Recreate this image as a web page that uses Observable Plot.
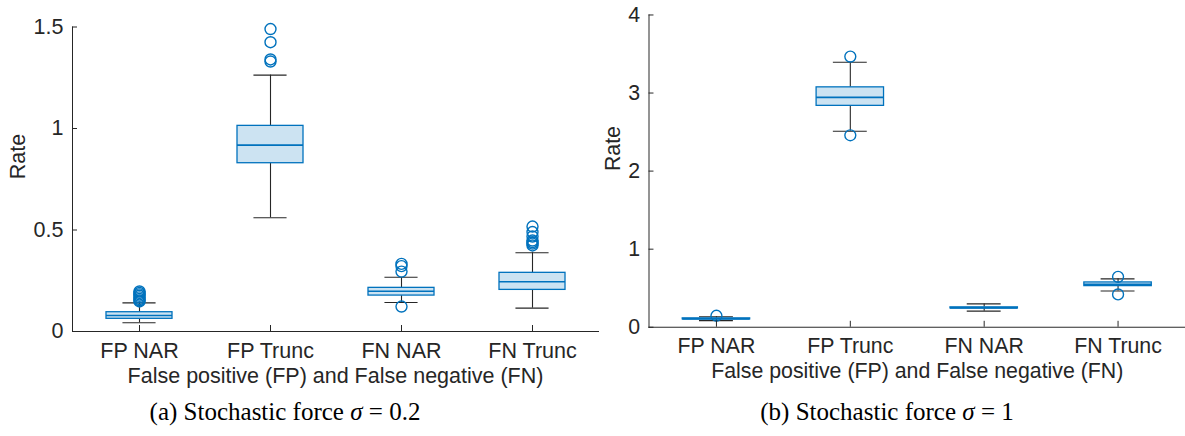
<!DOCTYPE html>
<html><head><meta charset="utf-8">
<script src="https://cdn.jsdelivr.net/npm/d3@7"></script>
<script src="https://cdn.jsdelivr.net/npm/@observablehq/plot@0.6"></script>
<style>
html,body{margin:0;padding:0;background:#fff;overflow:hidden;width:1185px;height:436px;}
#wrap{position:relative;width:1185px;height:436px;overflow:hidden;}
.panel{position:absolute;top:0;}
.cap{position:absolute;font-family:"Liberation Serif","DejaVu Serif",serif;font-size:25px;line-height:28px;color:#000;white-space:nowrap;transform:translateX(-50%);}
</style></head><body><div id="wrap"></div>
<script>
const categories = ["FP NAR", "FP Trunc", "FN NAR", "FN Trunc"];
const xLabel = "False positive (FP) and False negative (FN)";
const yLabel = "Rate";

// Panel (a): sigma = 0.2
const q1A   = [0.0625, 0.829, 0.177, 0.205];
const medA  = [0.079, 0.918, 0.198, 0.245];
const q3A   = [0.095, 1.013, 0.215, 0.289];
const loA   = [0.043, 0.56, 0.143, 0.115];
const hiA   = [0.141, 1.263, 0.267, 0.388];
const outA  = [
  [0.197, 0.19, 0.183, 0.176, 0.168, 0.16, 0.153, 0.148],
  [1.49, 1.425, 1.34, 1.33],
  [0.333, 0.322, 0.295, 0.123],
  [0.517, 0.49, 0.468, 0.448, 0.44, 0.433, 0.424]
];
const yTicksA = [0, 0.5, 1, 1.5];
const captionA = '(a) Stochastic force <i>σ</i> = 0.2';

// Panel (b): sigma = 1
const q1B   = [0.101, 2.836, 0.241, 0.527];
const medB  = [0.107, 2.945, 0.248, 0.55];
const q3B   = [0.114, 3.073, 0.255, 0.574];
const loB   = [0.085, 2.51, 0.206, 0.464];
const hiB   = [0.135, 3.395, 0.299, 0.62];
const outB  = [
  [0.147],
  [3.467, 2.459],
  [],
  [0.646, 0.42]
];
const yTicksB = [0, 1, 2, 3, 4];
const captionB = '(b) Stochastic force <i>σ</i> = 1';

const BLUE = "#0072BD", FILL = "#cce3f2", DARK = "#262626";

function panel(p) {
  const rows = categories.map((c, i) => ({cat: c, q1: p.q1[i], med: p.med[i], q3: p.q3[i], lo: p.lo[i], hi: p.hi[i]}));
  const outRows = categories.flatMap((c, i) => p.out[i].map(v => ({cat: c, v})));
  const height = 436;
  const step = (p.width - p.mL - p.mR) / categories.length;
  const capInset = step * 0.5 / 4;
  return Plot.plot({
    width: p.width, height,
    marginLeft: p.mL, marginRight: p.mR, marginTop: p.mT, marginBottom: height - p.y0,
    style: {fontFamily: "'Liberation Sans', Arial, sans-serif", fontSize: "21.5px", color: DARK, background: "transparent", overflow: "visible"},
    x: {type: "band", domain: categories, paddingInner: 0.5, paddingOuter: 0.25, align: 0.5},
    y: {domain: p.yDomain},
    marks: [
      Plot.ruleX(rows, {x: "cat", y1: "lo", y2: "q1", stroke: DARK, strokeWidth: 1.1}),
      Plot.ruleX(rows, {x: "cat", y1: "q3", y2: "hi", stroke: DARK, strokeWidth: 1.1}),
      Plot.tickY(rows, {x: "cat", y: "lo", insetLeft: capInset, insetRight: capInset, stroke: DARK, strokeWidth: 1.1}),
      Plot.tickY(rows, {x: "cat", y: "hi", insetLeft: capInset, insetRight: capInset, stroke: DARK, strokeWidth: 1.1}),
      Plot.barY(rows, {x: "cat", y1: "q1", y2: "q3", fill: FILL, stroke: BLUE, strokeWidth: 1.3}),
      Plot.tickY(rows, {x: "cat", y: "med", stroke: BLUE, strokeWidth: 1.6}),
      Plot.dot(outRows, {x: "cat", y: "v", r: 5.5, stroke: BLUE, strokeWidth: 1.4, fill: "none"}),
      Plot.axisY({ticks: p.yTicks, tickFormat: d => String(d), tickSize: -5, tickPadding: 14, label: null, stroke: DARK}),
      Plot.axisX({tickSize: -6, tickPadding: 17, label: null, stroke: DARK}),
      Plot.frame({anchor: "left", stroke: DARK}),
      Plot.frame({anchor: "bottom", stroke: DARK}),
      Plot.text([yLabel], {frameAnchor: "left", rotate: -90, dx: p.rateDx, fontSize: 21.5, fill: DARK}),
      Plot.text([xLabel], {frameAnchor: "bottom", dy: 51, fontSize: 21.5, fill: DARK})
    ]
  });
}

const wrap = document.getElementById("wrap");
function addPanel(p, left, caption, capX) {
  const div = document.createElement("div");
  div.className = "panel";
  div.style.left = left + "px";
  div.appendChild(panel(p));
  wrap.appendChild(div);
  const cap = document.createElement("div");
  cap.className = "cap";
  cap.style.left = capX + "px";
  cap.style.top = "398px";
  cap.innerHTML = caption;
  wrap.appendChild(cap);
}

addPanel({q1: q1A, med: medA, q3: q3A, lo: loA, hi: hiA, out: outA, yDomain: [0, 1.5], yTicks: yTicksA,
  width: 600, mL: 72, mR: 2, mT: 26.5, y0: 331, rateDx: -54}, 0, captionA, 285);
addPanel({q1: q1B, med: medB, q3: q3B, lo: loB, hi: hiB, out: outB, yDomain: [0, 4], yTicks: yTicksB,
  width: 600, mL: 59, mR: 0, mT: 14.6, y0: 329.5, rateDx: -36}, 590, captionB, 887);
</script></body></html>
